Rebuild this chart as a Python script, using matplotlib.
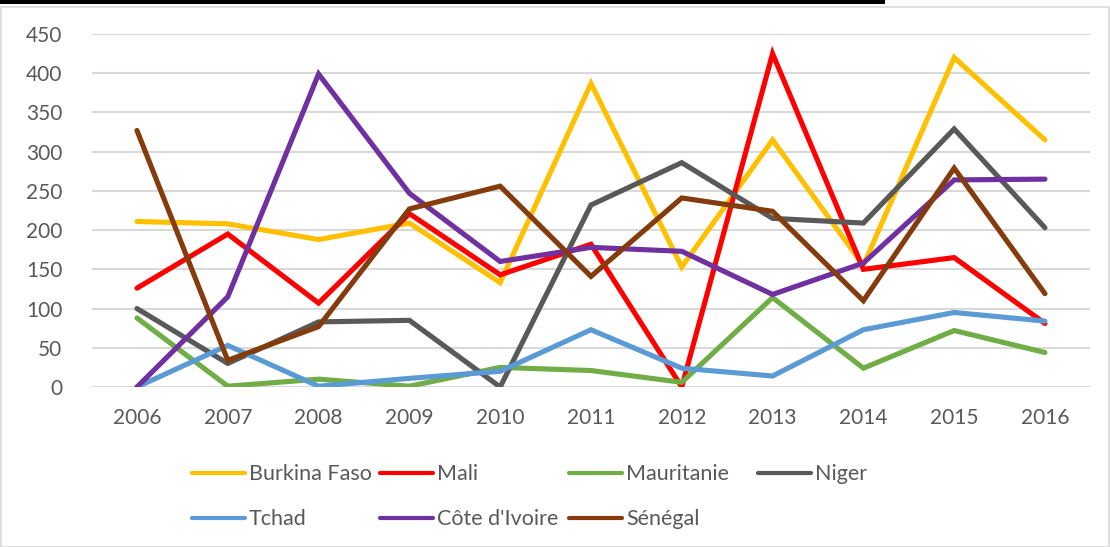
import matplotlib
matplotlib.use('Agg')
import matplotlib.pyplot as plt
from matplotlib.patches import Rectangle

plt.rcParams['font.family'] = ['Lato', 'DejaVu Sans']

years = [2006, 2007, 2008, 2009, 2010, 2011, 2012, 2013, 2014, 2015, 2016]
burkina = [211, 208, 188, 209, 133, 387, 153, 315, 155, 420, 315]
mali = [126, 195, 107, 221, 143, 182, 0, 425, 150, 165, 81]
mauritanie = [88, 1, 10, 1, 25, 21, 6, 114, 24, 72, 44]
niger = [100, 30, 83, 85, 0, 232, 286, 215, 209, 329, 203]
tchad = [0, 53, 1, 11, 20, 73, 24, 14, 73, 95, 84]
cote_ivoire = [0, 115, 399, 247, 160, 178, 173, 118, 158, 264, 265]
senegal = [327, 34, 77, 227, 256, 141, 241, 224, 110, 279, 119]

names = ['Burkina Faso', 'Mali', 'Mauritanie', 'Niger', 'Tchad', "Côte d'Ivoire", 'Sénégal']
series = [burkina, mali, mauritanie, niger, tchad, cote_ivoire, senegal]
colors = ['#FFC000', '#FF0000', '#70AD47', '#595959', '#5B9BD5', '#7030A0', '#843C0C']

fig = plt.figure(figsize=(11.1, 5.47), dpi=100)
ax = fig.add_axes([0.0825, 0.2925, 0.8998, 0.6453])

handles = []
for name, vals, c in zip(names, series, colors):
    h, = ax.plot(years, vals, color=c, lw=3.7, solid_capstyle='round',
                 solid_joinstyle='miter', label=name)
    handles.append(h)

ax.set_xlim(2005.5, 2016.5)
ax.set_ylim(0, 450)
ax.set_xticks(years)
ax.set_xticklabels([str(y) for y in years])
ax.set_yticks(range(0, 451, 50))
ax.tick_params(length=0, labelsize=15, labelcolor='#595959')
ax.tick_params(axis='x', pad=15)
ax.tick_params(axis='y', pad=21)
ax.grid(axis='y', color='#D9D9D9', lw=1.5)
ax.set_axisbelow(True)
for s in ax.spines.values():
    s.set_visible(False)

# legend: Excel-style fixed-width columns, one small legend per column
columns = [[0, 4], [1, 5], [2, 6], [3]]
col_x = [192, 380, 569, 758]
for idx, x in zip(columns, col_x):
    leg = fig.legend([handles[i] for i in idx], [names[i] for i in idx],
                     loc='upper left', bbox_to_anchor=(x / 1110, 0.151),
                     frameon=False, fontsize=15.5, labelcolor='#595959',
                     handlelength=2.45, handletextpad=0.2, labelspacing=1.15,
                     borderpad=0, borderaxespad=0)
    for ln in leg.get_lines():
        ln.set_linewidth(3.0)

# outer frame and top bar
fig.patches.append(Rectangle((0.001, 0.0), 0.998, 0.987, transform=fig.transFigure,
                             fill=False, edgecolor='#D9D9D9', lw=1.2))
fig.patches.append(Rectangle((0.0, 0.993), 0.797, 0.007, transform=fig.transFigure,
                             facecolor='black', edgecolor='none'))

fig.savefig('out.png', dpi=100, facecolor='white')
